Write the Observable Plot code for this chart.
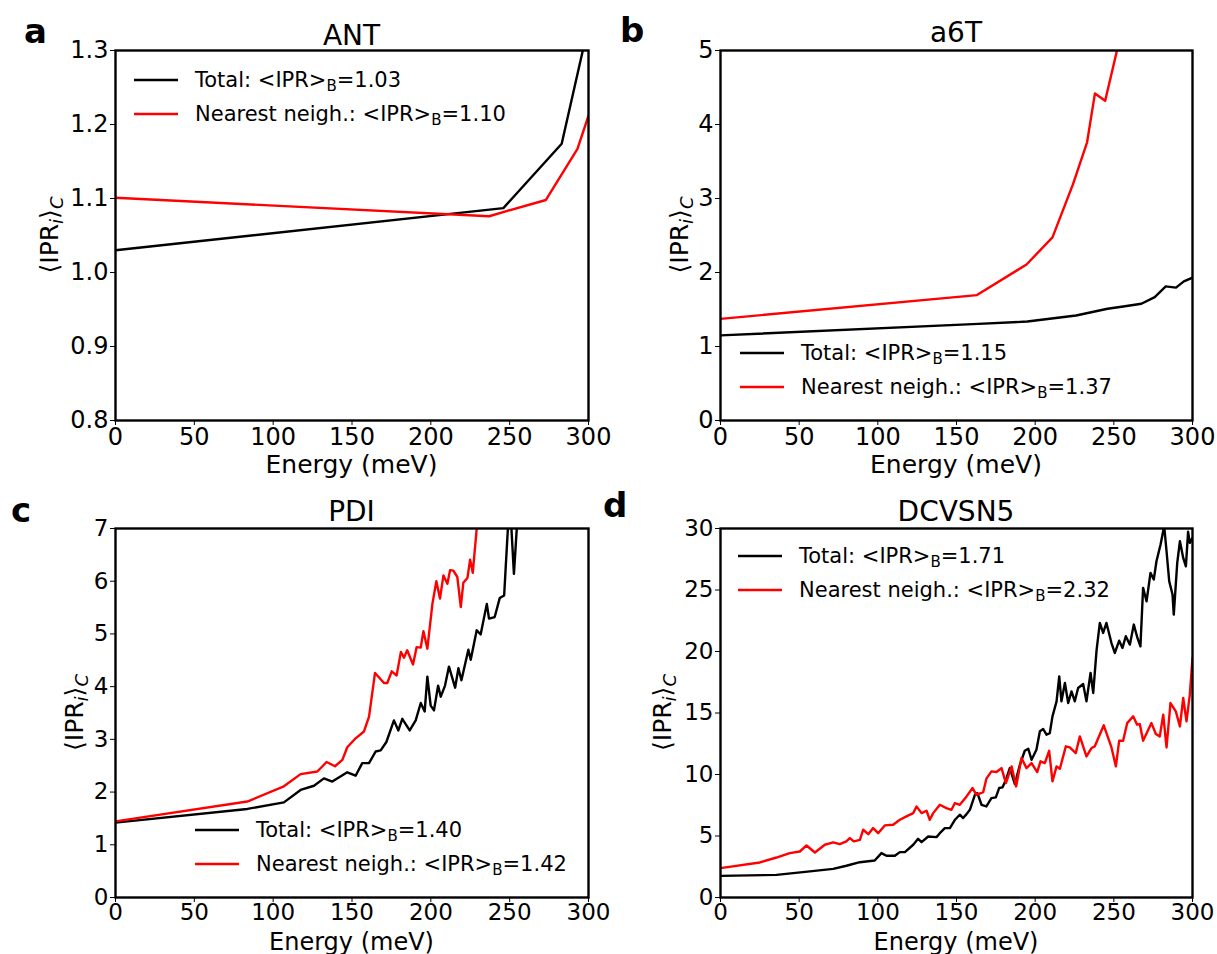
<!DOCTYPE html>
<html><head><meta charset="utf-8">
<script src="https://cdn.jsdelivr.net/npm/d3@7"></script>
<script src="https://cdn.jsdelivr.net/npm/@observablehq/plot@0.6"></script>
<style>
body{margin:0;background:#fff;}
#fig{position:relative;width:1217px;height:954px;overflow:hidden;font-family:'DejaVu Sans';}
#fig svg{position:absolute;overflow:visible;}
</style></head><body><div id="fig"></div>
<script>
const energyTicks = [0, 50, 100, 150, 200, 250, 300];

// Panel a: ANT
const antTotalE = [0, 246, 283, 300];
const antTotalV = [1.030, 1.087, 1.174, 1.334];
const antNnE = [0, 237, 248, 273, 293, 300];
const antNnV = [1.101, 1.076, 1.083, 1.098, 1.167, 1.212];
const antTicks = [0.8, 0.9, 1.0, 1.1, 1.2, 1.3];

// Panel b: a6T
const a6tTotalE = [0, 164, 195, 226, 246, 256, 267.5, 276, 283, 289.5, 294.5, 300];
const a6tTotalV = [1.15, 1.306, 1.337, 1.419, 1.51, 1.54, 1.577, 1.668, 1.813, 1.795, 1.88, 1.93];
const a6tNnE = [0, 163, 194.5, 211, 224, 233, 238, 244.5, 252, 258];
const a6tNnV = [1.373, 1.695, 2.108, 2.475, 3.19, 3.76, 4.42, 4.32, 5.0, 5.5];
const a6tTicks = [0, 1, 2, 3, 4, 5];

// Panel c: PDI
const pdiTotalE = [0, 83.6, 106.8, 117.4, 125.9, 132.2, 137.5, 147, 152.3, 156.5, 160.8, 165, 168.2, 171.8, 176.6, 179.4, 181.9, 186.6, 190.4, 193.6, 196.1, 197.8, 199.9, 202, 204.6, 206.3, 209, 211.5, 215.4, 217.5, 219.4, 223.8, 225.3, 229.1, 231.6, 235.5, 236.9, 240.5, 243.7, 246.5, 247.5, 250, 252.7, 256];
const pdiTotalV = [1.42, 1.68, 1.805, 2.04, 2.12, 2.26, 2.20, 2.375, 2.31, 2.55, 2.55, 2.77, 2.79, 2.95, 3.36, 3.17, 3.39, 3.17, 3.36, 3.69, 3.53, 4.19, 3.64, 3.55, 4.02, 3.81, 4.02, 4.38, 3.98, 4.35, 4.12, 4.70, 4.51, 5.07, 4.99, 5.57, 5.29, 5.32, 5.68, 5.73, 6.27, 7.6, 6.14, 7.7];
const pdiNnE = [0, 83.6, 106.8, 117.4, 128, 133.9, 139.2, 143.9, 147, 152.3, 157.6, 160.8, 164.6, 170.3, 172.4, 175.2, 178.3, 181, 183, 185, 188.7, 191, 193.6, 195.3, 197.8, 201, 203.5, 205.8, 208, 210.5, 212.2, 214.3, 216.8, 219, 220.6, 223.2, 224.9, 226.6, 229.1, 232];
const pdiNnV = [1.444, 1.82, 2.11, 2.34, 2.39, 2.57, 2.49, 2.61, 2.85, 3.02, 3.15, 3.43, 4.26, 4.07, 4.07, 4.29, 4.21, 4.66, 4.55, 4.69, 4.42, 4.75, 4.74, 5.05, 4.72, 5.57, 6.0, 5.67, 6.11, 5.95, 6.21, 6.20, 6.08, 5.51, 5.97, 6.06, 6.41, 6.16, 7.0, 7.6];
const pdiTicks = [0, 1, 2, 3, 4, 5, 6, 7];

// Panel d: DCVSN5
const dcvTotalE = [0, 35.6, 56.8, 71.6, 80, 88.6, 98, 102.3, 105.5, 110.8, 114, 117.2, 122.5, 125.6, 127.8, 132, 137.3, 139.4, 142.6, 145.8, 149, 152.1, 154.2, 156.4, 158.5, 161.7, 163.3, 165.9, 169, 172.2, 175, 177.1, 179.2, 181.4, 183.9, 187.1, 190.3, 193.4, 195.6, 197.7, 200.8, 203, 205.1, 207.2, 209.3, 211, 213.6, 215.3, 216.7, 218.9, 221, 223.1, 225.2, 227.3, 230.5, 232.6, 235.2, 236.9, 239, 241.1, 243.2, 245.3, 248.5, 250.6, 253.4, 255.5, 257.6, 260.2, 262.7, 265, 266.9, 268.6, 270.8, 273.3, 275.4, 277.1, 279.7, 282, 283.5, 285.2, 287.3, 288.1, 290.3, 292, 294.1, 295.8, 297.2, 298.3, 300];
const dcvTotalV = [1.76, 1.84, 2.12, 2.33, 2.58, 2.87, 3.01, 3.61, 3.39, 3.39, 3.69, 3.69, 4.29, 4.77, 4.50, 4.96, 4.91, 5.23, 5.64, 5.64, 6.32, 6.73, 6.46, 6.78, 7.13, 8.35, 8.49, 7.54, 7.40, 8.08, 8.14, 8.90, 8.95, 9.57, 10.52, 9.22, 10.79, 11.93, 12.10, 11.20, 12.01, 13.51, 13.70, 13.24, 13.37, 14.73, 15.95, 17.98, 15.95, 17.44, 15.81, 16.76, 15.95, 17.03, 17.36, 15.95, 18.25, 16.63, 20.07, 22.32, 21.51, 22.32, 20.69, 19.88, 20.88, 20.29, 21.24, 20.56, 22.19, 21.10, 20.42, 25.17, 24.08, 26.39, 25.85, 27.34, 28.70, 30.2, 28.15, 25.71, 24.63, 23.0, 27.20, 28.97, 27.61, 26.93, 29.73, 28.83, 29.24];
const dcvNnE = [0, 25, 35.6, 44, 50.4, 54.7, 60, 66.3, 71.6, 75.8, 80, 82.2, 84.7, 88.6, 90.7, 93.9, 97, 100.2, 104.4, 109.7, 114, 118.2, 122.5, 124.6, 127.8, 131, 133, 135.2, 139.4, 143.6, 146.8, 149, 152.1, 156.4, 160.2, 162.7, 167, 169, 172.2, 175.4, 178.6, 181.4, 185, 187.9, 191.3, 194.5, 197.7, 201.3, 203.4, 206.1, 208.9, 211, 213.6, 215.7, 219.5, 222, 225.8, 228.4, 232.6, 235.8, 237.9, 243.6, 248.5, 251.3, 253.4, 255.9, 258.5, 262.3, 264.8, 266.5, 268.6, 273.9, 276.7, 279.2, 281.4, 283.5, 286, 289.4, 292, 294.1, 296.2, 298.3, 300];
const dcvNnV = [2.39, 2.85, 3.25, 3.61, 3.74, 4.23, 3.66, 4.29, 4.48, 4.34, 4.56, 4.83, 4.56, 4.69, 5.51, 5.15, 5.64, 5.23, 5.86, 5.91, 6.32, 6.59, 6.86, 7.40, 6.86, 7.05, 6.32, 6.86, 7.54, 7.27, 7.13, 7.68, 7.54, 8.22, 8.90, 8.35, 8.57, 9.66, 10.25, 10.20, 10.52, 9.30, 10.66, 9.03, 11.34, 10.52, 10.93, 10.20, 11.07, 10.93, 11.93, 9.44, 10.66, 10.47, 12.29, 12.20, 11.74, 13.10, 11.47, 12.15, 12.29, 14.0, 12.20, 10.66, 12.75, 12.75, 14.18, 14.73, 14.05, 14.10, 12.75, 14.18, 13.29, 13.10, 14.86, 12.20, 15.81, 15.13, 13.91, 16.22, 14.32, 16.49, 19.47];
const dcvTicks = [0, 5, 10, 15, 20, 25, 30];

const titles = ["ANT", "a6T", "PDI", "DCVSN5"];
const letters = ["a", "b", "c", "d"];
const legendTotal = ["1.03", "1.15", "1.40", "1.71"];
const legendNn = ["1.10", "1.37", "1.42", "2.32"];

const rows = (E, V) => E.map((e, i) => ({E: e, v: V[i]}));

const panels = [
  {left: 0, top: 0, width: 608, height: 480, mt: 50, mr: 20, mb: 60, ml: 115,
   domain: [0.8, 1.3], ticks: antTicks, fmt: d3.format(".1f"), tickFont: 24, xlabFont: 25,
   total: rows(antTotalE, antTotalV), nn: rows(antNnE, antNnV),
   titleY: 45, letterX: 24, letterY: 43, ylabX: 50, xlabY: 473, legX: 134, legY: 80},
  {left: 608, top: 0, width: 609, height: 480, mt: 50, mr: 25, mb: 60, ml: 112,
   domain: [0, 5], ticks: a6tTicks, fmt: d3.format("d"), tickFont: 24, xlabFont: 25,
   total: rows(a6tTotalE, a6tTotalV), nn: rows(a6tNnE, a6tNnV),
   titleY: 42, letterX: 620 - 608, letterY: 42, ylabX: 680 - 608, xlabY: 473, legX: 740 - 608, legY: 353},
  {left: 0, top: 480, width: 608, height: 474, mt: 48, mr: 20, mb: 57, ml: 115,
   domain: [0, 7], ticks: pdiTicks, fmt: d3.format("d"), tickFont: 23, xlabFont: 24,
   total: rows(pdiTotalE, pdiTotalV), nn: rows(pdiNnE, pdiNnV),
   titleY: 521 - 480, letterX: 11, letterY: 522 - 480, ylabX: 75, xlabY: 950 - 480, legX: 195, legY: 830 - 480},
  {left: 608, top: 480, width: 609, height: 474, mt: 48, mr: 25, mb: 57, ml: 112,
   domain: [0, 30], ticks: dcvTicks, fmt: d3.format("d"), tickFont: 23, xlabFont: 24,
   total: rows(dcvTotalE, dcvTotalV), nn: rows(dcvNnE, dcvNnV),
   titleY: 521 - 480, letterX: 603 - 608, letterY: 517 - 480, ylabX: 663 - 608, xlabY: 950 - 480, legX: 738 - 608, legY: 556 - 480}
];

const fig = document.getElementById("fig");

panels.forEach((p, k) => {
  const svgEl = Plot.plot({
    width: p.width, height: p.height,
    marginTop: p.mt, marginRight: p.mr, marginBottom: p.mb, marginLeft: p.ml,
    style: {fontFamily: "'DejaVu Sans'", fontSize: p.tickFont + "px", background: "transparent", color: "#000", overflow: "visible"},
    x: {domain: [0, 300]},
    y: {domain: p.domain},
    marks: [
      Plot.axisX({ticks: energyTicks, tickSize: 5, tickPadding: k >= 2 ? 1 : 2, label: null}),
      Plot.axisY({ticks: p.ticks, tickFormat: p.fmt, tickSize: 5, tickPadding: 2, label: null}),
      Plot.line(p.total, {x: "E", y: "v", stroke: "#000000", strokeWidth: 2.4, clip: true}),
      Plot.line(p.nn, {x: "E", y: "v", stroke: "#ff0000", strokeWidth: 2.4, clip: true}),
      Plot.frame({stroke: "#000", strokeWidth: 2.4})
    ]
  });
  svgEl.style.left = p.left + "px";
  svgEl.style.top = p.top + "px";
  fig.appendChild(svgEl);

  const svg = d3.select(svgEl);
  const cx = p.ml + (p.width - p.ml - p.mr) / 2;
  const cy = p.mt + (p.height - p.mt - p.mb) / 2;
  const g = svg.append("g").attr("font-family", "'DejaVu Sans'").attr("fill", "#000")
    .attr("text-anchor", "start");

  // title
  g.append("text").attr("x", cx).attr("y", p.titleY).attr("text-anchor", "middle")
    .attr("font-size", 28).text(titles[k]);
  // panel letter
  g.append("text").attr("x", p.letterX).attr("y", p.letterY).attr("text-anchor", "start")
    .attr("font-size", 34).attr("font-weight", "bold").text(letters[k]);
  // x label
  g.append("text").attr("x", cx).attr("y", p.xlabY).attr("text-anchor", "middle")
    .attr("font-size", p.xlabFont).text("Energy (meV)");
  // y label
  const yl = g.append("text").attr("transform", `translate(${p.ylabX + 8},${cy}) rotate(-90)`)
    .attr("text-anchor", "middle").attr("font-size", 25);
  yl.append("tspan").text("⟨IPR");
  yl.append("tspan").attr("font-style", "italic").attr("font-size", 18).attr("dy", 5).text("i");
  yl.append("tspan").attr("dy", -5).text("⟩");
  yl.append("tspan").attr("font-style", "italic").attr("font-size", 18).attr("dy", 5).text("C");

  // legend
  const entries = [
    {color: "#000000", label: "Total: <IPR>", val: legendTotal[k]},
    {color: "#ff0000", label: "Nearest neigh.: <IPR>", val: legendNn[k]}
  ];
  entries.forEach((e, i) => {
    const ly = p.legY + i * 34;
    g.append("line").attr("x1", p.legX).attr("x2", p.legX + 44).attr("y1", ly).attr("y2", ly)
      .attr("stroke", e.color).attr("stroke-width", 2.4);
    const t = g.append("text").attr("x", p.legX + 61).attr("y", ly + 7)
      .attr("text-anchor", "start").attr("font-size", 21);
    t.append("tspan").text(e.label);
    t.append("tspan").attr("font-size", 15).attr("dy", 4).text("B");
    t.append("tspan").attr("dy", -4).text("=" + e.val);
  });
});
</script></body></html>
